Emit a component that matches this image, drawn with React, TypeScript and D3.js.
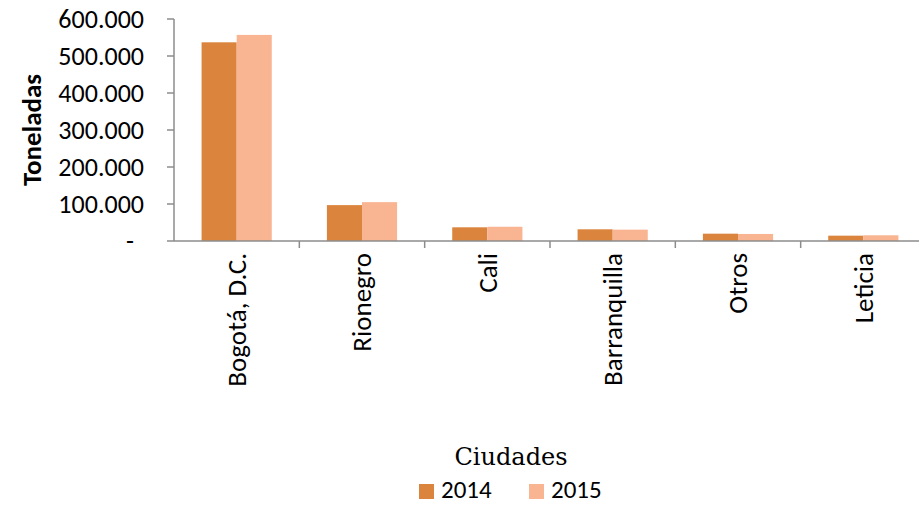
import React from 'react';
import * as d3 from 'd3';

const ciudades = ['Bogotá, D.C.', 'Rionegro', 'Cali', 'Barranquilla', 'Otros', 'Leticia'];
const toneladas2014 = [537000, 97000, 37000, 31600, 19800, 14400];
const toneladas2015 = [557000, 105000, 38500, 30700, 19000, 15400];
const yTicks = [0, 100000, 200000, 300000, 400000, 500000, 600000];
const series = [
  { name: '2014', values: toneladas2014, color: '#DB843D' },
  { name: '2015', values: toneladas2015, color: '#F9B591' },
];

const W = 919;
const H = 505;
const left = 174;
const right = 926;
const top = 19;
const bottom = 241;
const axisColor = '#8c8c8c';
const sans = 'Carlito, "Liberation Sans", Arial, sans-serif';

const fmt = (v: number) => (v === 0 ? '-' : d3.format(',.3f')(v / 1000).replace(',', '.'));

const App: React.FC = () => {
  const x = d3.scaleBand<string>().domain(ciudades).range([left, right]).paddingInner(0).paddingOuter(0);
  const y = d3.scaleLinear().domain([0, 600000]).range([bottom, top]);
  const groupPad = 0.22;
  const inner = d3
    .scaleBand<string>()
    .domain(series.map(s => s.name))
    .range([x.bandwidth() * groupPad, x.bandwidth() * (1 - groupPad)]);

  return (
    <svg width={W} height={H} style={{ position: 'absolute', left: 0, top: 0 }}>
      {/* bars */}
      {ciudades.map((c, i) => (
        <g key={c} transform={`translate(${x(c)},0)`}>
          {series.map(s => (
            <rect
              key={s.name}
              x={inner(s.name)}
              y={y(s.values[i])}
              width={inner.bandwidth()}
              height={bottom - y(s.values[i])}
              fill={s.color}
            />
          ))}
        </g>
      ))}

      {/* y axis */}
      <line x1={left} x2={left} y1={top} y2={bottom} stroke={axisColor} strokeWidth={1.5} />
      {yTicks.map(t => (
        <g key={t}>
          <line x1={left - 7} x2={left} y1={y(t)} y2={y(t)} stroke={axisColor} strokeWidth={1.5} />
          <text
            x={144}
            y={y(t)}
            dy="0.35em"
            textAnchor="end"
            fontFamily={sans}
            fontSize={26}
            fill="#000"
            dx={t === 0 ? -10 : 0}
          >
            {fmt(t)}
          </text>
        </g>
      ))}
      <text
        transform={`translate(41,${(top + bottom) / 2}) rotate(-90)`}
        textAnchor="middle"
        fontFamily={sans}
        fontWeight="bold"
        fontSize={27}
      >
        Toneladas
      </text>

      {/* x axis */}
      <line x1={left} x2={right} y1={bottom} y2={bottom} stroke={axisColor} strokeWidth={1.5} />
      {ciudades.map((c, i) => (
        <g key={c}>
          {i > 0 && (
            <line x1={x(c)} x2={x(c)} y1={bottom} y2={bottom + 7} stroke={axisColor} strokeWidth={1.5} />
          )}
          <text
            transform={`translate(${(x(c) as number) + x.bandwidth() / 2},${bottom + 12}) rotate(-90)`}
            textAnchor="end"
            dy="0.35em"
            fontFamily={sans}
            fontSize={27}
          >
            {c}
          </text>
        </g>
      ))}

      <text x={511} y={465} textAnchor="middle" fontFamily='"DejaVu Serif", serif' fontSize={24}>
        Ciudades
      </text>

      {/* legend */}
      {series.map((s, i) => (
        <g key={s.name} transform={`translate(${419 + i * 110},484)`}>
          <rect x={0} y={0} width={15} height={15} fill={s.color} />
          <text x={22} y={14} fontFamily={sans} fontSize={25}>
            {s.name}
          </text>
        </g>
      ))}
    </svg>
  );
};

export default App;
